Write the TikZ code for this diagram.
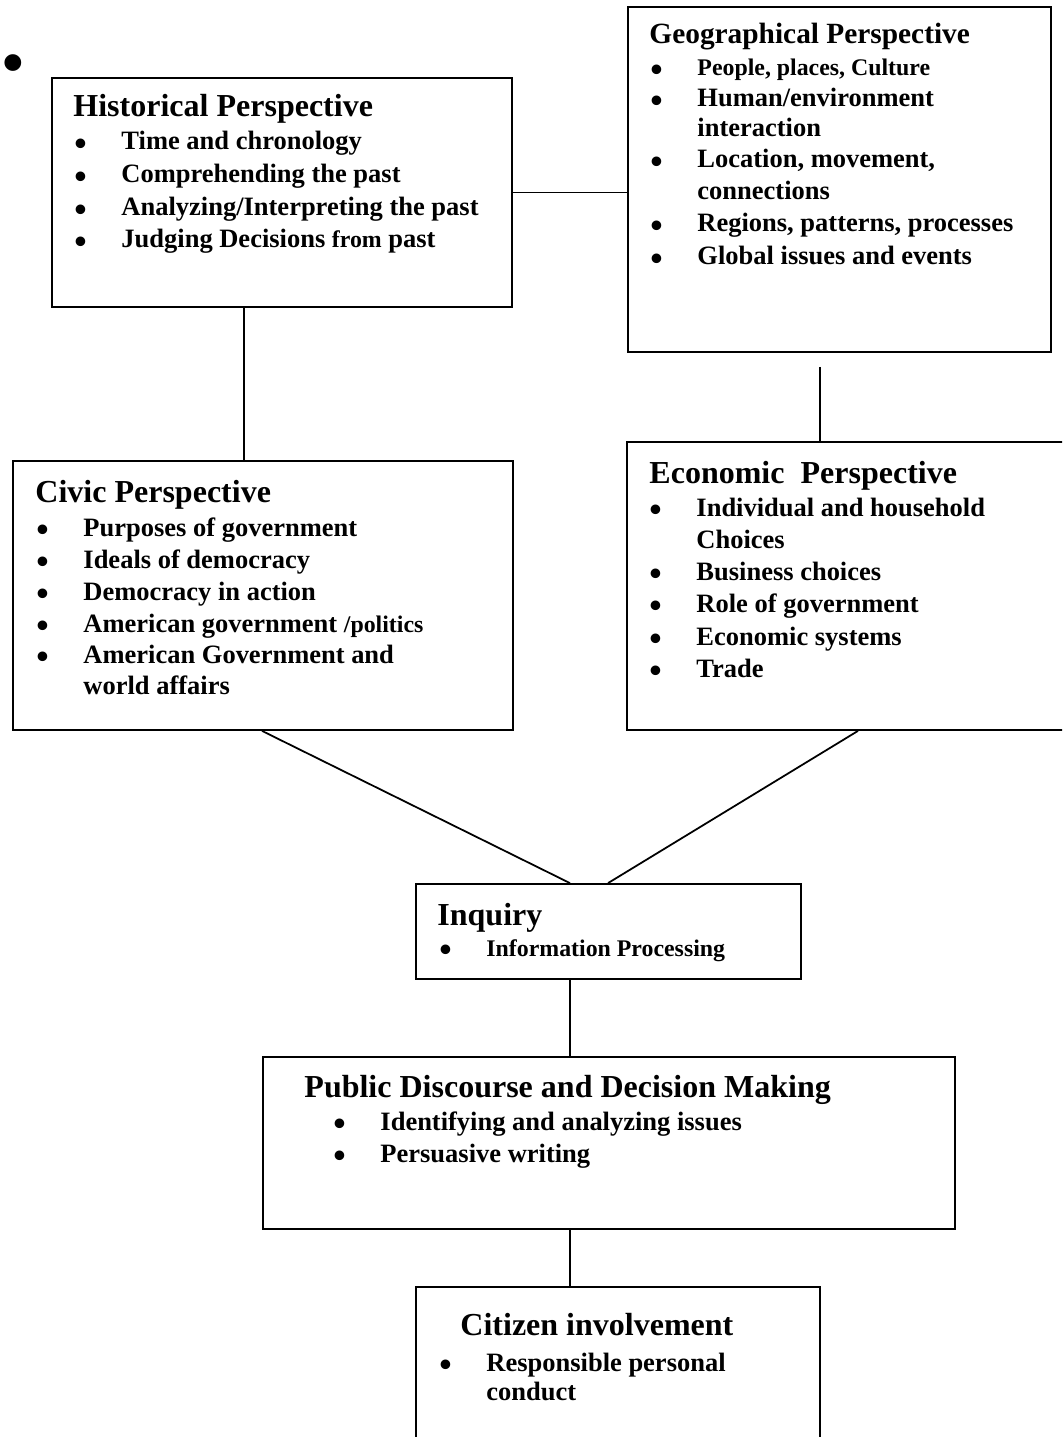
\documentclass[tikz,border=0pt]{standalone}
\usepackage{fontspec}
\setmainfont{Liberation Serif}
\usetikzlibrary{fit}
\newcommand\ttl{\fontsize{14.5}{16}\selectfont}
\newcommand\gttl{\fontsize{13.3}{15}\selectfont}
\newcommand\itm{\fontsize{12}{14}\selectfont}
\newcommand\sml{\fontsize{10.8}{13}\selectfont}
\newcommand\bul[1]{\makebox[21.3pt][l]{\smash{\raisebox{-2.6pt}{\fontsize{16}{16}\selectfont\textbullet}}}#1}
\begin{document}
\begin{tikzpicture}[x=0.453pt,y=-0.453pt,
  font=\bfseries\itm,
  box/.style={draw, line width=0.8pt, inner sep=0pt, fit={#1}},
  ln/.style={anchor=base west, inner sep=0pt},
  conn/.style={line width=0.8pt}]
\clip (0,0) rectangle (1062,1437);
% boxes
\node[box={(52,78) (512,307)}] (hist) {};
\node[box={(628,7) (1051,352)}] (geo) {};
\node[box={(13,461) (513,730)}] (civ) {};
\node[box={(627,442) (1075,730)}] (econ) {};
\node[box={(416,884) (801,979)}] (inq) {};
\node[box={(263,1057) (955,1229)}] (pub) {};
\node[box={(416,1287) (820,1460)}] (cit) {};
% stray bullet
\node[anchor=base, inner sep=0pt] (sb) at (13.5,84) {\fontsize{28}{28}\selectfont\textbullet};
% Historical
\node[ln] (h0) at (73,117) {\ttl Historical Perspective};
\node[ln] (h1) at (74,150) {\bul{Time and chronology}};
\node[ln] (h2) at (74,183) {\bul{Comprehending the past}};
\node[ln] (h3) at (74,216) {\bul{Analyzing/Interpreting the past}};
\node[ln] (h4) at (74,248) {\bul{Judging Decisions {\sml from} past}};
% Geographical
\node[ln] (g0) at (649,44) {\gttl Geographical Perspective};
\node[ln] (g1) at (650,76) {\bul{\sml People, places, Culture}};
\node[ln] (g2) at (650,107) {\bul{Human/environment}};
\node[ln] (g2b) at (697,137) {interaction};
\node[ln] (g3) at (650,168) {\bul{Location, movement,}};
\node[ln] (g3b) at (697,200) {connections};
\node[ln] (g4) at (650,232) {\bul{Regions, patterns, processes}};
\node[ln] (g5) at (650,265) {\bul{Global issues and events}};
% Civic
\node[ln] (c0) at (35,502) {\ttl Civic Perspective};
\node[ln] (c1) at (36,536) {\bul{Purposes of government}};
\node[ln] (c2) at (36,568) {\bul{Ideals of democracy}};
\node[ln] (c3) at (36,600) {\bul{Democracy in action}};
\node[ln] (c4) at (36,632) {\bul{American government {\sml/politics}}};
\node[ln] (c5) at (36,663) {\bul{American Government and}};
\node[ln] (c5b) at (83,694) {world affairs};
% Economic
\node[ln] (e0) at (649,483) {\ttl Economic\ \ Perspective};
\node[ln] (e1) at (649,516) {\bul{Individual and household}};
\node[ln] (e1b) at (696,548) {Choices};
\node[ln] (e2) at (649,580) {\bul{Business choices}};
\node[ln] (e3) at (649,612) {\bul{Role of government}};
\node[ln] (e4) at (649,645) {\bul{Economic systems}};
\node[ln] (e5) at (649,677) {\bul{Trade}};
% Inquiry
\node[ln] (i0) at (437,925) {\ttl Inquiry};
\node[ln] (i1) at (439,956) {\bul{\sml Information Processing}};
% Public
\node[ln] (p0) at (304,1097) {\ttl Public Discourse and Decision Making};
\node[ln] (p1) at (333,1130) {\bul{Identifying and analyzing issues}};
\node[ln] (p2) at (333,1162) {\bul{Persuasive writing}};
% Citizen
\node[ln] (z0) at (460,1335) {\ttl Citizen involvement};
\node[ln] (z1) at (439,1371) {\bul{Responsible personal}};
\node[ln] (z1b) at (486,1400) {conduct};
% connectors
\coordinate (hc) at (244,0);
\coordinate (gt) at (820,367);
\coordinate (cl) at (262,0);
\coordinate (il) at (570,0);
\coordinate (er) at (858,0);
\coordinate (ir) at (608,0);
\draw[conn] (hist.east) -- (geo.west |- hist.east);
\draw[conn] (hist.south -| hc) -- (civ.north -| hc);
\draw[conn] (gt) -- (econ.north -| gt);
\draw[conn] (civ.south -| cl) -- (inq.north -| il);
\draw[conn] (econ.south -| er) -- (inq.north -| ir);
\draw[conn] (inq.south -| il) -- (pub.north -| il);
\draw[conn] (pub.south -| il) -- (cit.north -| il);
\end{tikzpicture}
\end{document}
